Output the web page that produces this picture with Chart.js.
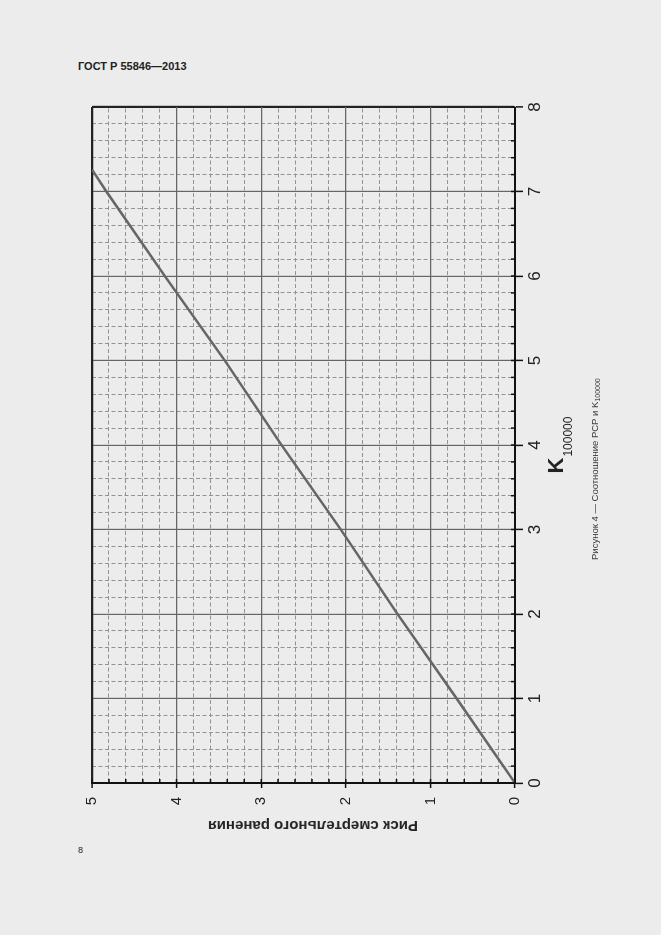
<!DOCTYPE html>
<html lang="ru">
<head>
<meta charset="utf-8">
<title>ГОСТ Р 55846—2013, Рисунок 4</title>
<script src="https://cdn.jsdelivr.net/npm/chart.js@4/dist/chart.umd.min.js"></script>
<style>
  html, body { margin: 0; padding: 0; }
  body {
    width: 661px; height: 935px; overflow: hidden; position: relative;
    background: #ececec; color: #222;
    font-family: 'Liberation Sans', Arial, sans-serif;
  }
  .header { position: absolute; left: 78px; top: 61px; font-size: 11px; font-weight: bold; line-height: 1; }
  .page-no { position: absolute; left: 78px; top: 846px; font-size: 9px; line-height: 1; }
  /* figure is drawn upright, then turned a quarter turn counter-clockwise like the page */
  #figure {
    position: absolute; left: 0; top: 0; width: 790px; height: 580px;
    transform-origin: 0 0; transform: translate(60px, 880px) rotate(-90deg);
  }
  #figure canvas { position: absolute; left: 0; top: 0; }
  .risk-title {
    position: absolute; left: -96px; top: 244px; width: 300px; height: 18px;
    text-align: center; font-size: 15px; line-height: 18px; font-weight: bold;
    white-space: nowrap; transform: rotate(-90deg);
  }
  .k-title {
    position: absolute; left: 97px; width: 676px; top: 485px;
    text-align: center; font-size: 22px; line-height: 21px; font-weight: bold; white-space: nowrap;
  }
  .k-title span { font-size: 12px; font-weight: normal; position: relative; top: 9px; margin-left: 1px; }
  .caption {
    position: absolute; left: 320px; top: 530px;
    font-size: 9.5px; line-height: 1; white-space: nowrap; color: #333;
  }
  .caption span { font-size: 7px; position: relative; top: 2px; }
</style>
</head>
<body>
<div class="header">ГОСТ Р 55846—2013</div>
<div class="page-no">8</div>

<div id="figure">
  <canvas id="riskChart" width="790" height="580"></canvas>
  <div class="risk-title">Риск смертельного ранения</div>
  <div class="k-title">K<span>100000</span></div>
  <div class="caption">Рисунок 4 — Соотношение РСР и K<span>100000</span></div>
</div>

<script>
const kValues = [0, 1, 2, 3, 4, 5, 6, 7, 7.26];
const riskValues = [0, 0.69, 1.39, 2.06, 2.76, 3.43, 4.14, 4.83, 5];
const kTicks = [0, 1, 2, 3, 4, 5, 6, 7, 8];
const riskTicks = [0, 1, 2, 3, 4, 5];

const isMajor = v => Math.abs(v - Math.round(v)) < 1e-6;

function gridFor(max) {
  return {
    color: c => {
      if (!c.tick) return '#666';
      if (Math.abs(c.tick.value - max) < 1e-6) return '#222';
      return isMajor(c.tick.value) ? '#666' : '#939393';
    },
    lineWidth: c => {
      if (!c.tick) return 1;
      if (Math.abs(c.tick.value - max) < 1e-6) return 2.2;
      return isMajor(c.tick.value) ? 1.2 : 1;
    },
    tickColor: c => (c.tick && isMajor(c.tick.value) ? '#111' : 'rgba(0,0,0,0)'),
    tickWidth: 1.5,
    tickBorderDash: [],
  };
}

const dashFor = c => (c.tick && !isMajor(c.tick.value) ? [4, 2.5] : []);

// short inner tick marks on both axes, every grid step
const innerTicks = {
  id: 'innerTicks',
  afterDatasetsDraw(chart) {
    const { ctx, chartArea: a, scales: { x, y } } = chart;
    ctx.save();
    ctx.strokeStyle = '#111';
    ctx.lineWidth = 1.5;
    ctx.beginPath();
    x.ticks.forEach(t => {
      const px = x.getPixelForValue(t.value);
      ctx.moveTo(px, a.bottom);
      ctx.lineTo(px, a.bottom - 4);
    });
    y.ticks.forEach(t => {
      const py = y.getPixelForValue(t.value);
      ctx.moveTo(a.left, py);
      ctx.lineTo(a.left + 4, py);
    });
    ctx.stroke();
    ctx.restore();
  },
};

new Chart(document.getElementById('riskChart'), {
  type: 'line',
  data: {
    datasets: [{
      data: kValues.map((k, i) => ({ x: k, y: riskValues[i] })),
      borderColor: '#666',
      borderWidth: 2.5,
      pointRadius: 0,
      tension: 0,
    }],
  },
  options: {
    responsive: false,
    animation: false,
    layout: { padding: { top: 32, right: 17, left: 0, bottom: 0 } },
    plugins: { legend: { display: false }, tooltip: { enabled: false } },
    scales: {
      x: {
        type: 'linear',
        min: 0,
        max: 8,
        afterFit: s => { s.height = 125; },
        ticks: {
          stepSize: 0.2,
          maxTicksLimit: 100,
          autoSkip: false,
          maxRotation: 0,
          padding: 2,
          color: '#222',
          font: { family: "'Liberation Sans', Arial, sans-serif", size: 17 },
          callback: v => (kTicks.some(t => Math.abs(t - v) < 1e-6) ? String(Math.round(v)) : ''),
        },
        grid: { ...gridFor(8), tickLength: 8, borderDash: dashFor },
        border: { display: true, color: '#111', width: 2, dash: dashFor },
      },
      y: {
        type: 'linear',
        min: 0,
        max: 5,
        afterFit: s => { s.width = 97; },
        ticks: {
          stepSize: 0.2,
          maxTicksLimit: 100,
          autoSkip: false,
          padding: 9,
          color: '#222',
          font: { family: "'Liberation Sans', Arial, sans-serif", size: 15 },
          callback: v => (riskTicks.some(t => Math.abs(t - v) < 1e-6) ? String(Math.round(v)) : ''),
        },
        grid: { ...gridFor(5), tickLength: 5, borderDash: dashFor },
        border: { display: true, color: '#111', width: 2, dash: dashFor },
      },
    },
  },
  plugins: [innerTicks],
});
</script>
</body>
</html>
